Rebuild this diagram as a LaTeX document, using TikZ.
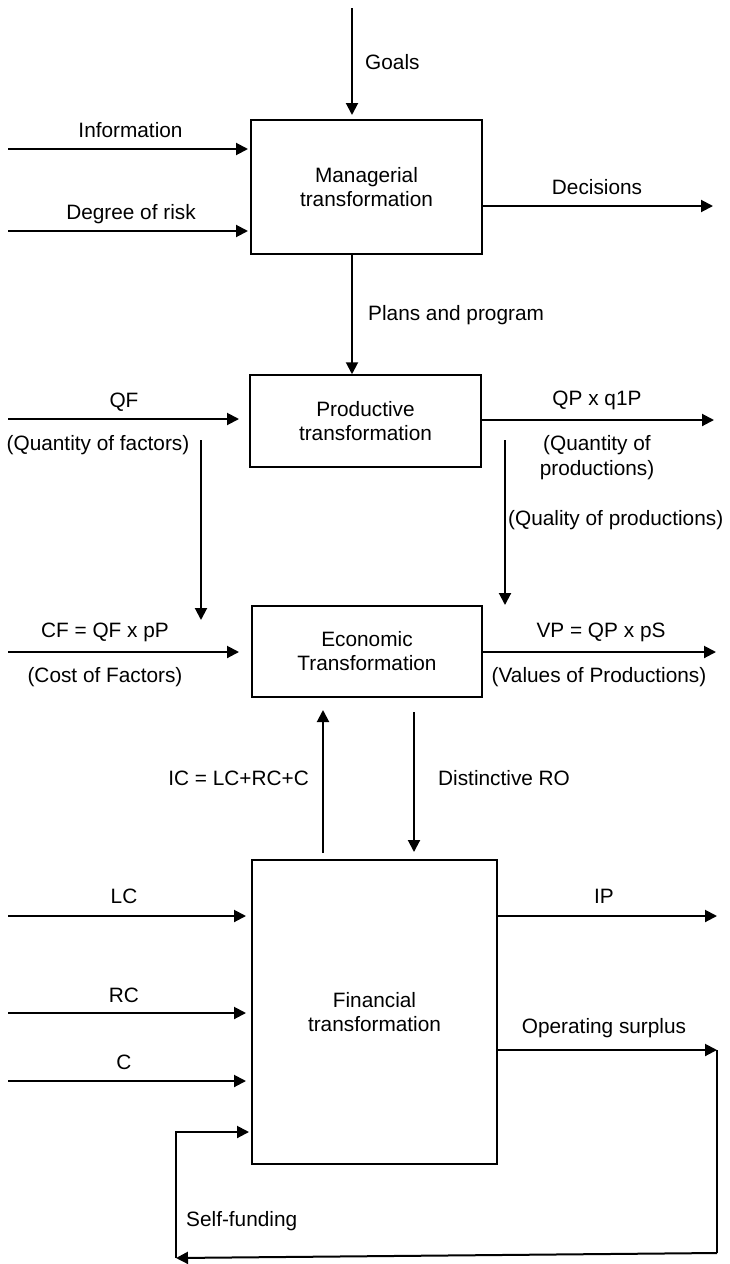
\documentclass[tikz,border=0pt]{standalone}
\usepackage{fontspec}
\setmainfont{Liberation Sans}
\usetikzlibrary{arrows.meta}
\newcommand{\lblfont}{\fontsize{20.8}{24}\selectfont}
\begin{document}
\begin{tikzpicture}[x=1pt,y=-1pt,
  box/.style={draw, line width=1.5pt, inner sep=0pt, align=center, font=\lblfont},
  flow/.style={line width=2pt, -{Triangle[length=12pt,width=12pt]}},
  wire/.style={line width=2pt},
  lbl/.style={font=\lblfont, anchor=base, inner sep=0pt},
]
\fill[white] (0,0) rectangle (730,1264);
\path[use as bounding box] (0,0) rectangle (730,1264);

% transformation blocks
\node[box, minimum width=231pt, minimum height=134pt] (mgr)  at (366.5,187)  {Managerial\\transformation};
\node[box, minimum width=231pt, minimum height=92pt]  (prod) at (365.5,421)  {Productive\\transformation};
\node[box, minimum width=230pt, minimum height=91pt]  (econ) at (367,651.5)  {Economic\\Transformation};
\node[box, minimum width=245pt, minimum height=304pt] (fin)  at (374.5,1012) {Financial\\transformation};

% free ends of the connectors
\coordinate (goalsS) at (352,8);
\coordinate (goalsE) at (352,115);
\coordinate (plansx) at (352,0);
\coordinate (infoS) at (8,149);
\coordinate (infoE) at (248,149);
\coordinate (riskS) at (8,231);
\coordinate (riskE) at (248,231);
\coordinate (decE) at (713,206);
\coordinate (qfS) at (8,419);
\coordinate (qfE) at (239,419);
\coordinate (qpE) at (714,420);
\coordinate (facS) at (201,440);
\coordinate (facE) at (201,620);
\coordinate (qualS) at (505,440);
\coordinate (qualE) at (505,605);
\coordinate (cfS) at (8,652);
\coordinate (cfE) at (239,652);
\coordinate (vpE) at (716,652);
\coordinate (icS) at (323,853);
\coordinate (icE) at (323,710);
\coordinate (roS) at (414,712);
\coordinate (roE) at (414,852);
\coordinate (lcS) at (8,916);
\coordinate (lcE) at (246,916);
\coordinate (rcS) at (8,1013);
\coordinate (rcE) at (246,1013);
\coordinate (cS) at (8,1081);
\coordinate (cE) at (246,1081);
\coordinate (ipE) at (717,916);
\coordinate (osE) at (717,1050);
\coordinate (loopBR) at (717,1253);
\coordinate (loopBL) at (176,1258);
\coordinate (loopTL) at (176,1132);
\coordinate (sfE) at (249,1132);

% managerial transformation
\draw[flow] (goalsS) -- (goalsE);
\draw[flow] (infoS) -- (infoE);
\draw[flow] (riskS) -- (riskE);
\draw[flow] (mgr.east |- decE) -- (decE);
\draw[flow] (mgr.south -| plansx) -- (prod.north -| plansx);

% productive transformation
\draw[flow] (qfS) -- (qfE);
\draw[flow] (prod.east |- qpE) -- (qpE);
\draw[flow] (facS) -- (facE);
\draw[flow] (qualS) -- (qualE);

% economic transformation
\draw[flow] (cfS) -- (cfE);
\draw[flow] (econ.east |- vpE) -- (vpE);
\draw[flow] (icS) -- (icE);
\draw[flow] (roS) -- (roE);

% financial transformation
\draw[flow] (lcS) -- (lcE);
\draw[flow] (rcS) -- (rcE);
\draw[flow] (cS) -- (cE);
\draw[flow] (fin.east |- ipE) -- (ipE);
\draw[flow] (fin.east |- osE) -- (osE);
\draw[wire] (osE) -- (loopBR);
\draw[flow] (loopBR) -- (loopBL);
\draw[flow] (loopBL) -- (loopTL) -- (sfE);

% labels
\node[lbl, anchor=base west] (tGoals) at (365,69.5) {Goals};
\node[lbl] (tInfo) at (130.5,137) {Information};
\node[lbl] (tRisk) at (131,219) {Degree of risk};
\node[lbl] (tDec) at (597,194) {Decisions};
\node[lbl, anchor=base west] (tPlans) at (368,320) {Plans and program};
\node[lbl] (tQF) at (124,407) {QF};
\node[lbl] (tQFb) at (98,450) {(Quantity of factors)};
\node[lbl] (tQP) at (597,405) {QP x q1P};
\node[lbl] (tQPb) at (597,450) {(Quantity of};
\node[lbl] (tQPc) at (597,475) {productions)};
\node[lbl, anchor=base west] (tQual) at (508,525) {(Quality of productions)};
\node[lbl] (tCF) at (105,637.5) {CF = QF x pP};
\node[lbl] (tCFb) at (105,682) {(Cost of Factors)};
\node[lbl] (tVP) at (601,637.5) {VP = QP x pS};
\node[lbl] (tVPb) at (599,682) {(Values of Productions)};
\node[lbl, anchor=base east] (tIC) at (309,785.5) {IC = LC+RC+C};
\node[lbl, anchor=base west] (tRO) at (438,785.5) {Distinctive RO};
\node[lbl] (tLC) at (124,903.5) {LC};
\node[lbl] (tRC) at (124,1002.5) {RC};
\node[lbl] (tC) at (124,1069.5) {C};
\node[lbl] (tIP) at (604,903.5) {IP};
\node[lbl] (tOS) at (604,1033) {Operating surplus};
\node[lbl, anchor=base west] (tSF) at (186,1226) {Self-funding};
\end{tikzpicture}
\end{document}
